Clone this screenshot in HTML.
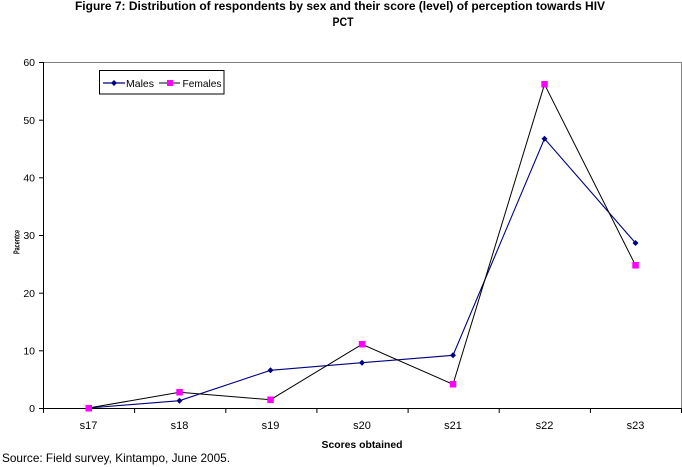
<!DOCTYPE html>
<html>
<head>
<meta charset="utf-8">
<style>
  html, body { margin: 0; padding: 0; background: #ffffff; }
  body { width: 682px; height: 467px; overflow: hidden; }
  svg { display: block; }
  text { font-family: "Liberation Sans", Arial, sans-serif; fill: #000; }
</style>
</head>
<body>
<svg width="682" height="467" viewBox="0 0 682 467" xmlns="http://www.w3.org/2000/svg">
  <rect x="0" y="0" width="682" height="467" fill="#ffffff"/>

  <!-- Title -->
  <text x="340" y="10" font-size="12" font-weight="bold" text-anchor="middle" textLength="530" lengthAdjust="spacingAndGlyphs">Figure 7: Distribution of respondents by sex and their score (level) of perception towards HIV</text>
  <text x="343" y="26" font-size="12" font-weight="bold" text-anchor="middle" textLength="21" lengthAdjust="spacingAndGlyphs">PCT</text>

  <!-- Plot border (gray top/right) -->
  <line x1="43" y1="62.5" x2="681.5" y2="62.5" stroke="#808080" stroke-width="1"/>
  <line x1="681.5" y1="62" x2="681.5" y2="408" stroke="#808080" stroke-width="1"/>

  <!-- Axes -->
  <line x1="43.5" y1="62" x2="43.5" y2="408.5" stroke="#000" stroke-width="1"/>
  <line x1="43" y1="408.5" x2="682" y2="408.5" stroke="#000" stroke-width="1"/>

  <!-- Y ticks and labels -->
  <g stroke="#000" stroke-width="1">
    <line x1="39" y1="408.5" x2="43" y2="408.5"/>
    <line x1="39" y1="350.8" x2="43" y2="350.8"/>
    <line x1="39" y1="293.2" x2="43" y2="293.2"/>
    <line x1="39" y1="235.5" x2="43" y2="235.5"/>
    <line x1="39" y1="177.8" x2="43" y2="177.8"/>
    <line x1="39" y1="120.2" x2="43" y2="120.2"/>
    <line x1="39" y1="62.5" x2="43" y2="62.5"/>
  </g>
  <g font-size="10.5" text-anchor="end">
    <text x="35" y="412">0</text>
    <text x="35" y="354.5">10</text>
    <text x="35" y="296.8">20</text>
    <text x="35" y="239">30</text>
    <text x="35" y="181.5">40</text>
    <text x="35" y="123.8">50</text>
    <text x="35" y="66">60</text>
  </g>

  <!-- X ticks -->
  <g stroke="#000" stroke-width="1">
    <line x1="43.5" y1="408" x2="43.5" y2="413"/>
    <line x1="134.6" y1="408" x2="134.6" y2="413"/>
    <line x1="225.8" y1="408" x2="225.8" y2="413"/>
    <line x1="316.9" y1="408" x2="316.9" y2="413"/>
    <line x1="408.1" y1="408" x2="408.1" y2="413"/>
    <line x1="499.2" y1="408" x2="499.2" y2="413"/>
    <line x1="590.4" y1="408" x2="590.4" y2="413"/>
    <line x1="681.5" y1="408" x2="681.5" y2="413"/>
  </g>
  <g font-size="11" text-anchor="middle">
    <text x="88.5" y="429">s17</text>
    <text x="179.5" y="429">s18</text>
    <text x="270.5" y="429">s19</text>
    <text x="362" y="429">s20</text>
    <text x="453" y="429">s21</text>
    <text x="544.5" y="429">s22</text>
    <text x="635.5" y="429">s23</text>
  </g>

  <!-- Axis titles -->
  <text x="362" y="448" font-size="10.5" font-weight="bold" text-anchor="middle" textLength="81" lengthAdjust="spacingAndGlyphs">Scores obtained</text>
  <text transform="translate(19.5,242) rotate(-90)" x="0" y="0" font-size="8.5" font-weight="bold" text-anchor="middle" textLength="24" lengthAdjust="spacingAndGlyphs">Pacentce</text>

  <!-- Source -->
  <text x="2" y="462" font-size="12" textLength="228" lengthAdjust="spacingAndGlyphs">Source: Field survey, Kintampo, June 2005.</text>

  <!-- Males series -->
  <polyline fill="none" stroke="#000080" stroke-width="1.1"
    points="88.5,408 179.5,400.7 270.5,370.3 362,362.7 453,355.3 544.5,138.7 635.5,243"/>
  <!-- Females series -->
  <polyline fill="none" stroke="#000000" stroke-width="1"
    points="88.5,408 179.5,392.3 270.5,399.7 362,344.3 453,384.3 544.5,84.3 635.5,265.3"/>

  <!-- Males markers (diamonds) -->
  <g fill="#000080">
    <polygon points="88.5,405 91.5,408 88.5,411 85.5,408"/>
    <polygon points="179.5,397.7 182.5,400.7 179.5,403.7 176.5,400.7"/>
    <polygon points="270.5,367.3 273.5,370.3 270.5,373.3 267.5,370.3"/>
    <polygon points="362,359.7 365,362.7 362,365.7 359,362.7"/>
    <polygon points="453,352.3 456,355.3 453,358.3 450,355.3"/>
    <polygon points="544.5,135.7 547.5,138.7 544.5,141.7 541.5,138.7"/>
    <polygon points="635.5,240 638.5,243 635.5,246 632.5,243"/>
  </g>
  <!-- Females markers (squares) -->
  <g fill="#ff00ff">
    <rect x="85.5" y="405" width="6.5" height="6.5"/>
    <rect x="176.3" y="389" width="6.5" height="6.5"/>
    <rect x="267.3" y="396.5" width="6.5" height="6.5"/>
    <rect x="358.8" y="341" width="6.5" height="6.5"/>
    <rect x="449.8" y="381" width="6.5" height="6.5"/>
    <rect x="541.3" y="81" width="6.5" height="6.5"/>
    <rect x="632.3" y="262" width="6.5" height="6.5"/>
  </g>

  <!-- Legend -->
  <rect x="99.5" y="70.5" width="124.5" height="23.5" fill="#ffffff" stroke="#000" stroke-width="1"/>
  <line x1="103" y1="83" x2="125" y2="83" stroke="#000080" stroke-width="1.2"/>
  <polygon points="114,80 117,83 114,86 111,83" fill="#000080"/>
  <text x="126" y="87" font-size="10.5" textLength="28" lengthAdjust="spacingAndGlyphs">Males</text>
  <line x1="159" y1="83" x2="180" y2="83" stroke="#000" stroke-width="1"/>
  <rect x="167" y="80" width="6" height="6" fill="#ff00ff"/>
  <text x="182.5" y="87" font-size="10.5" textLength="39" lengthAdjust="spacingAndGlyphs">Females</text>
</svg>
</body>
</html>
